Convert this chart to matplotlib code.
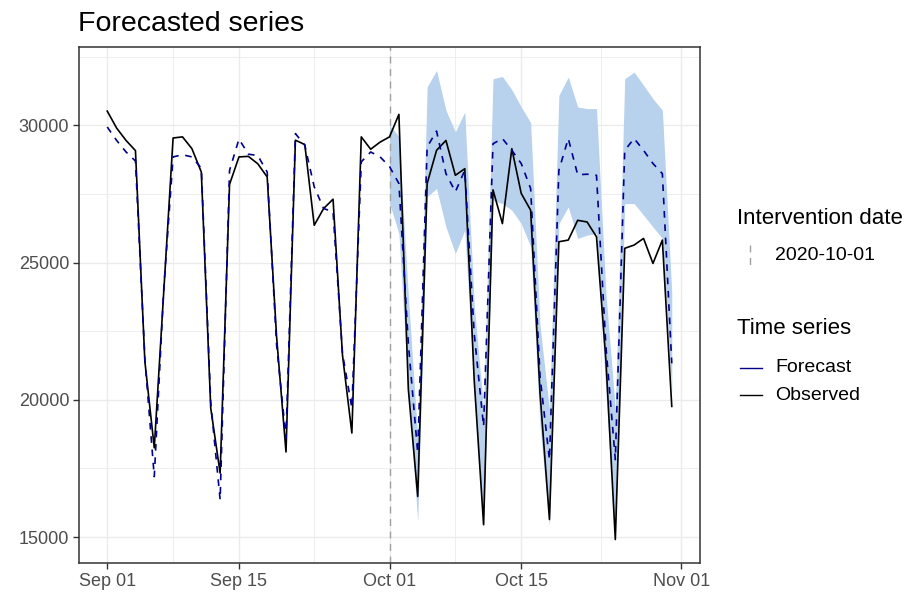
import numpy as np
import pandas as pd
import matplotlib
matplotlib.use('Agg')
import matplotlib.pyplot as plt
import matplotlib.dates as mdates
from matplotlib.lines import Line2D

plt.rcParams['font.family'] = ['Liberation Sans', 'DejaVu Sans']

dates = pd.date_range('2020-09-01', '2020-10-31', freq='D')
intervention = pd.Timestamp('2020-10-01')

observed = [30520, 29900, 29450, 29080, 21400, 18250, 23900, 29540, 29580, 29150,
            28300, 19700, 17330, 27850, 28850, 28870, 28600, 28120, 22300, 18100,
            29460, 29300, 26360, 26970, 27310, 21640, 18790, 29580, 29130, 29390,
            29580, 30400, 20400, 16480, 27880, 29090, 29450, 28180, 28420, 20730,
            15450, 27650, 26420, 29150, 27520, 26910, 20240, 15640, 25760, 25820,
            26540, 26480, 25940, 21450, 14910, 25520, 25640, 25880, 24970, 25820,
            19760]

forecast = [29940, 29450, 29030, 28700, 21500, 17200, 24000, 28850, 28930, 28850,
            28440, 19900, 16360, 28360, 29500, 28950, 28900, 28300, 22000, 18600,
            29700, 29270, 27760, 26970, 26850, 21700, 19700, 28670, 29030, 28850,
            28500, 27880, 22060, 18060, 29210, 29790, 28240, 27580, 28360, 22420,
            19030, 29330, 29520, 29090, 28610, 27700, 20850, 17820, 28360, 29520,
            28200, 28220, 28180, 21940, 17820, 29090, 29520, 29090, 28610, 28240,
            21330]

# prediction interval, only after the intervention
upper = [30000, 29600, 23800, 18600, 31400, 32000, 30550, 29760, 30490, 23500,
         19640, 31700, 31780, 31300, 30670, 30100, 22700, 19640, 31090, 31760,
         30670, 30610, 30610, 23900, 19640, 31700, 31940, 31460, 30970, 30550,
         23900]
lower = [27170, 26060, 20300, 15580, 27400, 27700, 26300, 25330, 26180, 20400,
         15390, 27270, 27150, 26910, 26420, 25580, 19030, 15390, 26420, 27030,
         25880, 26000, 26060, 20250, 14910, 27150, 27150, 26730, 26300, 25880,
         20240]
band_dates = dates[dates >= intervention]

fig = plt.figure(figsize=(9.09, 5.94), dpi=100)
ax = fig.add_axes([79 / 909, 1 - 563 / 594, 621 / 909, 516 / 594])

ax.fill_between(band_dates, lower, upper, color='#b8d1ed', lw=0, zorder=2)
ax.axvline(intervention, color='#a0a0a0', ls=(0, (5, 4)), lw=1.0, zorder=2)
ax.plot(dates, observed, color='black', lw=1.2, zorder=3)
ax.plot(dates, forecast, color='#00008b', lw=1.2, ls=(0, (4, 4)), zorder=4)

# limits with 5% padding
x0 = mdates.date2num(dates[0])
x1 = mdates.date2num(dates[-1])
pad = (x1 - x0) * 0.05
ax.set_xlim(x0 - pad, x1 + pad)
ymin = min(min(observed), min(forecast), min(lower))
ymax = max(max(observed), max(forecast), max(upper))
ypad = (ymax - ymin) * 0.05
ax.set_ylim(ymin - ypad, ymax + ypad)

major_x = pd.to_datetime(['2020-09-01', '2020-09-15', '2020-10-01', '2020-10-15', '2020-11-01'])
ax.set_xticks(major_x)
ax.xaxis.set_major_formatter(mdates.DateFormatter('%b %d'))
mx = mdates.date2num(major_x)
ax.set_xticks((mx[:-1] + mx[1:]) / 2, minor=True)
ax.set_yticks([15000, 20000, 25000, 30000])
ax.set_yticks([17500, 22500, 27500, 32500], minor=True)

ax.set_axisbelow(True)
ax.grid(which='major', color='#ebebeb', lw=1.0, zorder=0)
ax.grid(which='minor', color='#ebebeb', lw=0.6, zorder=0)
for s in ax.spines.values():
    s.set_color('#333333')
    s.set_linewidth(1.1)
ax.tick_params(which='major', length=4, width=1.0, color='#333333',
               labelcolor='#4d4d4d', labelsize=13, pad=3)
ax.tick_params(which='minor', length=0)

fig.text(78 / 909, 1 - 31 / 594, 'Forecasted series', fontsize=20.5, va='baseline')

# legends
def fx(px):
    return px / 909

def fy(py):
    return 1 - py / 594

fig.text(fx(737), fy(218), 'Intervention date', fontsize=16, va='center')
fig.add_artist(Line2D([fx(750), fx(750)], [fy(245), fy(267)], color='#a0a0a0',
                      lw=1.0, ls=(0, (5, 4))))
fig.text(fx(775), fy(256), '2020-10-01', fontsize=14, va='center')

fig.text(fx(737), fy(329), 'Time series', fontsize=16, va='center')
fig.add_artist(Line2D([fx(740), fx(762)], [fy(368), fy(368)], color='#00008b', lw=1.0))
fig.text(fx(775), fy(368), 'Forecast', fontsize=14, va='center')
fig.add_artist(Line2D([fx(740), fx(762)], [fy(395), fy(395)], color='black', lw=1.0))
fig.text(fx(775), fy(395), 'Observed', fontsize=14, va='center')

fig.savefig('out.png', dpi=100)
